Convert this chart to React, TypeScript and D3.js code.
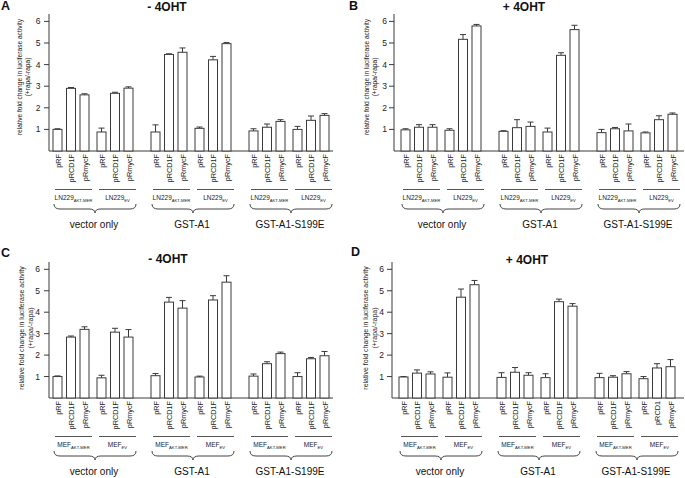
import React from "react";
import * as d3 from "d3";

const groups = ["vector only", "GST-A1", "GST-A1-S199E"];
const subgroups = ["AKT-MER", "EV"];
const reporters = ["pRF", "pRCD1F", "pRmycF"];
const yTicks = [1, 2, 3, 4, 5, 6];

const meansA = [1.0, 2.9, 2.6, 0.88, 2.67, 2.91, 0.88, 4.47, 4.57, 1.05, 4.22, 4.97, 0.93, 1.1, 1.37, 1.0, 1.42, 1.65];
const errsA = [0.03, 0.04, 0.05, 0.18, 0.05, 0.06, 0.33, 0.03, 0.2, 0.06, 0.16, 0.05, 0.1, 0.15, 0.08, 0.14, 0.2, 0.08];
const meansB = [0.98, 1.1, 1.1, 0.96, 5.17, 5.79, 0.91, 1.08, 1.14, 0.88, 4.43, 5.62, 0.85, 1.03, 0.93, 0.84, 1.45, 1.7];
const errsB = [0.05, 0.12, 0.12, 0.07, 0.22, 0.07, 0.03, 0.37, 0.2, 0.18, 0.12, 0.2, 0.15, 0.06, 0.32, 0.04, 0.18, 0.06];
const meansC = [1.0, 2.84, 3.2, 0.94, 3.07, 2.84, 1.04, 4.47, 4.19, 0.98, 4.57, 5.4, 1.02, 1.6, 2.07, 1.0, 1.83, 1.97];
const errsC = [0.03, 0.05, 0.12, 0.12, 0.18, 0.35, 0.1, 0.22, 0.35, 0.04, 0.2, 0.3, 0.1, 0.09, 0.07, 0.18, 0.06, 0.2];
const meansD = [0.98, 1.16, 1.12, 0.97, 4.7, 5.28, 0.96, 1.2, 1.06, 0.95, 4.49, 4.28, 0.95, 0.97, 1.13, 0.9, 1.4, 1.46];
const errsD = [0.02, 0.15, 0.1, 0.2, 0.38, 0.2, 0.22, 0.22, 0.12, 0.18, 0.12, 0.12, 0.2, 0.07, 0.1, 0.1, 0.2, 0.33];

const labelsStd = Array.from({ length: 18 }, (_, i) => reporters[i % 3]);
const labelsD = labelsStd.map((l, i) => (i === 16 ? "pRCD1" : l));

const FONT = "'Liberation Sans', Arial, Helvetica, sans-serif";
const INK = "#3a3a3a";

type PanelCfg = {
  letter: string;
  title: string;
  cell: string;
  means: number[];
  errs: number[];
  labels: string[];
  axisX: number;
  firstBar: number;
  xEnd: number;
  y0: number;
  y6: number;
  axisTop: number;
  tickLabelX: number;
  lab1X: number;
  lab2X: number;
  labCY: number;
  labSize: number;
  letterX: number;
  letterY: number;
  titleX: number;
  titleY: number;
};

const panels: PanelCfg[] = [
  { letter: "A", title: "- 4OHT", cell: "LN229", means: meansA, errs: errsA, labels: labelsStd,
    axisX: 49, firstBar: 53, xEnd: 333, y0: 151, y6: 21.4, axisTop: 14, tickLabelX: 40.5,
    lab1X: 20, lab2X: 28, labCY: 77, labSize: 6.6, letterX: 1, letterY: 10, titleX: 167, titleY: 11 },
  { letter: "B", title: "+ 4OHT", cell: "LN229", means: meansB, errs: errsB, labels: labelsStd,
    axisX: 394, firstBar: 401, xEnd: 684, y0: 151, y6: 21.4, axisTop: 14, tickLabelX: 387,
    lab1X: 367, lab2X: 375, labCY: 77, labSize: 6.6, letterX: 349, letterY: 10, titleX: 524, titleY: 11 },
  { letter: "C", title: "- 4OHT", cell: "MEF", means: meansC, errs: errsC, labels: labelsStd,
    axisX: 49, firstBar: 53, xEnd: 333, y0: 398, y6: 269.3, axisTop: 262, tickLabelX: 40,
    lab1X: 22, lab2X: 31, labCY: 328, labSize: 7, letterX: 1, letterY: 257, titleX: 168, titleY: 263 },
  { letter: "D", title: "+ 4OHT", cell: "MEF", means: meansD, errs: errsD, labels: labelsD,
    axisX: 392, firstBar: 399, xEnd: 684, y0: 398, y6: 269.3, axisTop: 262, tickLabelX: 384,
    lab1X: 366, lab2X: 375, labCY: 328, labSize: 7, letterX: 351, letterY: 256, titleX: 527, titleY: 264 },
];

function bracePath(x1: number, x2: number, top: number) {
  const cx = (x1 + x2) / 2;
  const y1 = top + 5;
  const y2 = top + 9;
  const r = 6;
  return `M${x1},${top} Q${x1},${y1} ${x1 + r},${y1} L${cx - r},${y1} Q${cx},${y1} ${cx},${y2} Q${cx},${y1} ${cx + r},${y1} L${x2 - r},${y1} Q${x2},${y1} ${x2},${top}`;
}

function Panel({ p }: { p: PanelCfg }) {
  const y = d3.scaleLinear().domain([0, 6]).range([p.y0, p.y6]);
  const gx = d3.scaleBand<string>().domain(groups).range([p.firstBar, p.firstBar + 276]).paddingInner(18 / 98).paddingOuter(0);
  const sx = d3.scaleBand<string>().domain(subgroups).range([0, gx.bandwidth()]).paddingInner(8 / 44).paddingOuter(0);
  const bx = d3.scaleBand<string>().domain(reporters).range([0, sx.bandwidth()]).paddingInner(4.5 / 13.5).paddingOuter(0);
  const bw = bx.bandwidth();

  const bars: { x: number; v: number; e: number; label: string }[] = [];
  groups.forEach((g, gi) => {
    subgroups.forEach((s, si) => {
      reporters.forEach((r, ri) => {
        const idx = gi * 6 + si * 3 + ri;
        bars.push({ x: (gx(g) as number) + (sx(s) as number) + (bx(r) as number), v: p.means[idx], e: p.errs[idx], label: p.labels[idx] });
      });
    });
  });

  return (
    <g fontFamily={FONT}>
      <text x={p.letterX} y={p.letterY} fontSize={12.5} fontWeight="bold" fill="#111">{p.letter}</text>
      <text x={p.titleX} y={p.titleY} fontSize={12} fontWeight="bold" textAnchor="middle" fill="#111">{p.title}</text>
      {/* y axis */}
      <line x1={p.axisX} x2={p.axisX} y1={p.axisTop} y2={p.y0} stroke={INK} strokeWidth={1} />
      {yTicks.map((t) => (
        <g key={t}>
          <line x1={p.axisX - 5} x2={p.axisX} y1={y(t)} y2={y(t)} stroke={INK} strokeWidth={1} />
          <text x={p.tickLabelX} y={y(t)} dy="0.35em" fontSize={8.5} textAnchor="end" fill="#222">{t}</text>
        </g>
      ))}
      <g transform={`translate(${p.lab1X},${p.labCY}) rotate(-90)`}>
        <text fontSize={p.labSize} textAnchor="middle" dy="0.35em" fill="#222">relative fold change in luciferase activity</text>
      </g>
      <g transform={`translate(${p.lab2X},${p.labCY}) rotate(-90)`}>
        <text fontSize={p.labSize} textAnchor="middle" dy="0.35em" fill="#222">(+rapa/-rapa)</text>
      </g>
      {/* x axis */}
      <line x1={p.axisX} x2={p.xEnd} y1={p.y0} y2={p.y0} stroke={INK} strokeWidth={1} />
      {bars.map((b, i) => {
        const cx = b.x + bw / 2;
        return (
          <g key={i}>
            <line x1={cx} x2={cx} y1={y(b.v)} y2={y(b.v + b.e)} stroke={INK} strokeWidth={1} />
            <line x1={cx - 3} x2={cx + 3} y1={y(b.v + b.e)} y2={y(b.v + b.e)} stroke={INK} strokeWidth={1} />
            <rect x={b.x} y={y(b.v)} width={bw} height={p.y0 - y(b.v)} fill="#fff" stroke={INK} strokeWidth={1} />
            <g transform={`translate(${cx + 0.5},${p.y0 + 3}) rotate(-90)`}>
              <text fontSize={7.3} textAnchor="end" dy="0.35em" fill="#222">{b.label}</text>
            </g>
          </g>
        );
      })}
      {groups.map((g) => {
        const g0 = gx(g) as number;
        return (
          <g key={g}>
            {subgroups.map((s) => {
              const s0 = g0 + (sx(s) as number);
              const s1 = s0 + sx.bandwidth();
              return (
                <g key={s}>
                  <line x1={s0 + 2} x2={s1 + 3} y1={p.y0 + 38.5} y2={p.y0 + 38.5} stroke="#555" strokeWidth={1} />
                  <text x={(s0 + s1) / 2 + 2.5} y={p.y0 + 49} fontSize={6.5} textAnchor="middle" fill="#222">
                    {p.cell}
                    <tspan fontSize={4.2} dy={1.5}>{s}</tspan>
                  </text>
                </g>
              );
            })}
            <path d={bracePath(g0 + 1, g0 + gx.bandwidth() + 3, p.y0 + 53)} fill="none" stroke="#444" strokeWidth={1} />
            <text x={g0 + gx.bandwidth() / 2 + 1} y={p.y0 + 77} fontSize={10} textAnchor="middle" fill="#111">{g}</text>
          </g>
        );
      })}
    </g>
  );
}

export default function App() {
  return (
    <div style={{ position: "absolute", left: 0, top: 0 }}>
      <svg width={685} height={478} style={{ display: "block", background: "#fff" }}>
        <rect width={685} height={478} fill="#fff" />
        {panels.map((p) => (
          <Panel key={p.letter} p={p} />
        ))}
      </svg>
    </div>
  );
}
